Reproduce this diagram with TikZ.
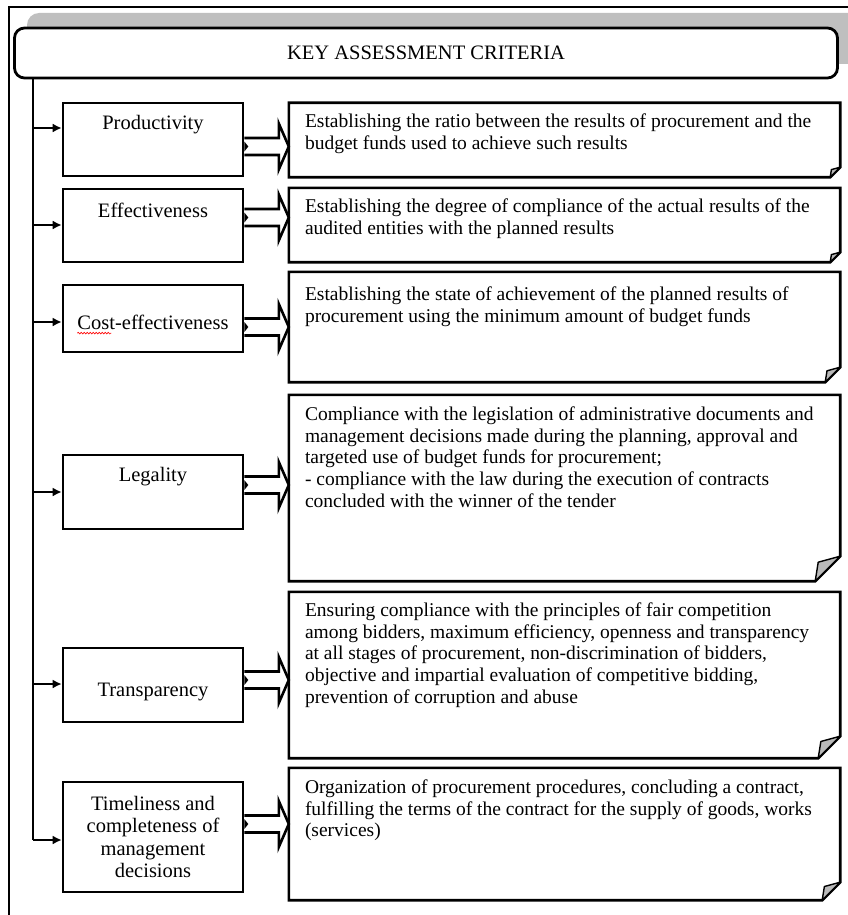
\documentclass[tikz,border=0pt]{standalone}
\usepackage{fontspec}
\setmainfont{Liberation Serif}
\usetikzlibrary{calc,arrows.meta,decorations.pathmorphing}
\tikzset{
 lbox/.style={draw, line width=2.6pt, minimum width=180pt, inner sep=0pt, fill=white},
 rbox/.style={draw=none, minimum width=551pt, inner sep=0pt},
 rline/.style={draw, line width=2.6pt, line join=miter},
 foldfill/.style={fill=gray!55, draw, line width=1.4pt, line join=round},
 lab/.style={font=\fontsize{20.5}{22.5}\selectfont, align=center, inner sep=0pt},
 desc/.style={font=\fontsize{19.5}{21.6}\selectfont, align=left, inner sep=0pt, anchor=north west},
 trunkarr/.style={line width=2.6pt, -{Latex[length=9pt,width=9pt]}},
 dbl/.style={line width=2.6pt, line join=miter},
}
\newcommand\foldcorner[2]{%
  \draw[rline] (#1.north west) -- (#1.north east) -- ($(#1.south east)+(0,-#2)$) -- ($(#1.south east)+(-#2,0)$) -- (#1.south west) -- cycle;
  \filldraw[foldfill] ($(#1.south east)+(0,-#2)$) -- ($(#1.south east)+(-0.88*#2,-0.76*#2)$) -- ($(#1.south east)+(-#2,0)$) -- cycle;}
\newcommand\dblarrow[3]{%
  \path (#2.west |- 0,#3) coordinate (tip) ++(-10,0) coordinate (hb);
  \draw[dbl] (#1.east |- 0,#3-8.5) -- (hb |- 0,#3-8.5) -- (hb |- 0,#3-23) -- (tip) -- (hb |- 0,#3+23) -- (hb |- 0,#3+8.5) -- (#1.east |- 0,#3+8.5);
  \fill (#1.east |- 0,#3-5) -- ++(4,5) -- ++(-4,5) -- cycle;}
\begin{document}
\begin{tikzpicture}[x=1pt,y=-1pt]
\useasboundingbox (0,0) rectangle (848,915);
\begin{scope}
\clip (0,0) rectangle (848,915);
\fill[gray!50, rounded corners=12pt] (27,13) rectangle (870,64);
\draw[line width=1.5pt] (9,930) -- (9,7) -- (860,7);
\end{scope}
\node[draw, line width=2.8pt, rounded corners=10pt, fill=white, minimum width=823pt, minimum height=50pt, inner sep=0pt, font=\fontsize{20.5}{22}\selectfont] (H) at (426,53) {KEY ASSESSMENT CRITERIA};
\coordinate (tk) at (33,0);
\coordinate (tkend) at (33,840);
\draw[line width=2.6pt] (H.south -| tk) -- (tkend);

% left boxes
\node[lbox, minimum height=73pt] (L1) at (153,139.5) {};
\node[lab] (l1) at (153,125) {Productivity};
\node[lbox, minimum height=73pt] (L2) at (153,225.5) {};
\node[lab] (l2) at (153,210) {Effectiveness};
\node[lbox, minimum height=67pt] (L3) at (153,318.5) {};
\node[lab] (l3) at (153,322) {Cost-effectiveness};
\draw[red, line width=0.6pt, decorate, decoration={snake, amplitude=0.8pt, segment length=3pt}] ($(l3.base west)+(0,4)$) -- ++(34,0);
\node[lbox, minimum height=74pt] (L4) at (153,492) {};
\node[lab] (l4) at (153,477) {Legality};
\node[lbox, minimum height=74pt] (L5) at (153,685) {};
\node[lab] (l5) at (153,692) {Transparency};
\node[lbox, minimum height=110pt] (L6) at (153,837) {};
\node[lab] (l6) at (153,837) {Timeliness and\\completeness of\\management\\decisions};

\draw[trunkarr] (tk |- 0,128) -- (L1.west |- 0,128);
\draw[trunkarr] (tk |- 0,225) -- (L2.west |- 0,225);
\draw[trunkarr] (tk |- 0,322) -- (L3.west |- 0,322);
\draw[trunkarr] (tk |- 0,492) -- (L4.west |- 0,492);
\draw[trunkarr] (tk |- 0,684) -- (L5.west |- 0,684);
\draw[trunkarr] (tkend) -- (L6.west |- tkend);

% right boxes
\node[rbox, minimum height=74pt] (R1) at (564.5,140) {};
\foldcorner{R1}{10}
\node[desc] (t1) at ($(R1.north west)+(16,11)$) {Establishing the ratio between the results of procurement and the\\budget funds used to achieve such results};
\node[rbox, minimum height=74pt] (R2) at (564.5,225) {};
\foldcorner{R2}{10}
\node[desc] (t2) at ($(R2.north west)+(16,11)$) {Establishing the degree of compliance of the actual results of the\\audited entities with the planned results};
\node[rbox, minimum height=110pt] (R3) at (564.5,327) {};
\foldcorner{R3}{15}
\node[desc] (t3) at ($(R3.north west)+(16,15)$) {Establishing the state of achievement of the planned results of\\procurement using the minimum amount of budget funds};
\node[rbox, minimum height=186pt] (R4) at (564.5,488) {};
\foldcorner{R4}{25}
\node[desc] (t4) at ($(R4.north west)+(16,12)$) {Compliance with the legislation of administrative documents and\\management decisions made during the planning, approval and\\targeted use of budget funds for procurement;\\- compliance with the law during the execution of contracts\\concluded with the winner of the tender};
\node[rbox, minimum height=166pt] (R5) at (564.5,675) {};
\foldcorner{R5}{22}
\node[desc] (t5) at ($(R5.north west)+(16,11)$) {Ensuring compliance with the principles of fair competition\\among bidders, maximum efficiency, openness and transparency\\at all stages of procurement, non-discrimination of bidders,\\objective and impartial evaluation of competitive bidding,\\prevention of corruption and abuse};
\node[rbox, minimum height=132pt] (R6) at (564.5,834) {};
\foldcorner{R6}{18}
\node[desc] (t6) at ($(R6.north west)+(16,12)$) {Organization of procurement procedures, concluding a contract,\\fulfilling the terms of the contract for the supply of goods, works\\(services)};

\dblarrow{L1}{R1}{146.5}
\dblarrow{L2}{R2}{217.5}
\dblarrow{L3}{R3}{327}
\dblarrow{L4}{R4}{485}
\dblarrow{L5}{R5}{680}
\dblarrow{L6}{R6}{824}
\end{tikzpicture}
\end{document}
